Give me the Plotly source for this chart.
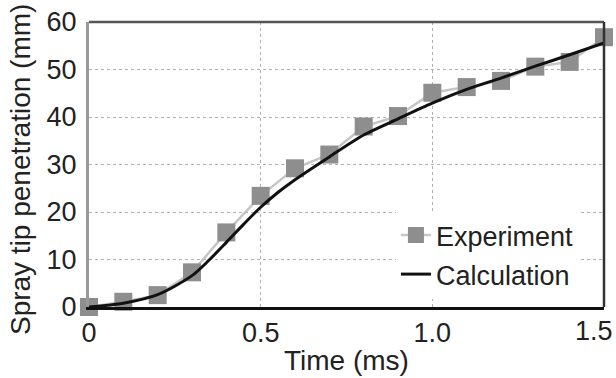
import plotly.graph_objects as go

# Spray tip penetration vs. time after start of injection
exp_time = [0.0, 0.1, 0.2, 0.3, 0.4, 0.5, 0.6, 0.7, 0.8, 0.9, 1.0, 1.1, 1.2, 1.3, 1.4, 1.5]
exp_pen = [0.0, 1.1, 2.5, 7.3, 15.7, 23.4, 29.2, 32.1, 38.0, 40.2, 45.1, 46.3, 47.6, 50.6, 51.6, 56.8]

calc_time = [0.0, 0.1, 0.2, 0.3, 0.35, 0.4, 0.45, 0.5, 0.55, 0.6, 0.7, 0.8, 0.9, 1.0, 1.1, 1.2, 1.3, 1.4, 1.5]
calc_pen = [0.0, 0.8, 2.6, 6.6, 9.9, 13.6, 17.4, 21.0, 24.1, 26.8, 31.6, 36.2, 39.6, 42.9, 45.8, 48.2, 50.7, 53.1, 55.6]

x_ticks = [0, 0.5, 1.0, 1.5]
x_tick_text = ["0", "0.5", "1.0", "1.5"]
y_ticks = [0, 10, 20, 30, 40, 50, 60]

x_title = "Time (ms)"
y_title = "Spray tip penetration (mm)"

FONT = "Liberation Sans, Arial, sans-serif"
TEXT_COLOR = "#222222"
TICK_SIZE = 27
TITLE_SIZE = 28

fig = go.Figure()
fig.add_trace(go.Scatter(
    x=exp_time, y=exp_pen, name="Experiment", mode="lines+markers",
    line=dict(color="#c6c6c6", width=2.5),
    marker=dict(symbol="square", size=18, color="#8e8e8e"),
    legendgroup="a", cliponaxis=False,
))
fig.add_trace(go.Scatter(
    x=calc_time, y=calc_pen, name="Calculation", mode="lines",
    line=dict(color="#111111", width=3, shape="spline", smoothing=0.8),
    legendgroup="b", cliponaxis=False,
))

# Frame: top and right borders
fig.add_shape(type="line", xref="paper", yref="paper", x0=0, x1=1, y0=1, y1=1,
              line=dict(color="#555555", width=2.5))
fig.add_shape(type="line", xref="paper", yref="paper", x0=1, x1=1, y0=0, y1=1,
              line=dict(color="#333333", width=2.5))

# The last x tick label sits at the page edge, so it is right-aligned to stay visible
axis_tick_text = x_tick_text[:-1] + [""]
fig.add_annotation(text=x_tick_text[-1], xref="x", yref="paper", x=x_ticks[-1], y=-0.084,
                   xanchor="right", yanchor="middle", xshift=11, showarrow=False,
                   font=dict(size=TICK_SIZE, family=FONT, color=TEXT_COLOR))

# Axis titles
fig.add_annotation(text=x_title, xref="paper", yref="paper", x=0.5, y=-0.186,
                   xanchor="center", yanchor="middle", showarrow=False,
                   font=dict(size=TITLE_SIZE, family=FONT, color=TEXT_COLOR))
fig.add_annotation(text=y_title, xref="paper", yref="paper", x=-0.134, y=0.484,
                   xanchor="center", yanchor="middle", textangle=-90, showarrow=False,
                   font=dict(size=TITLE_SIZE, family=FONT, color=TEXT_COLOR))

fig.update_layout(
    width=616, height=378,
    margin=dict(l=89, r=12, t=22, b=71),
    paper_bgcolor="white", plot_bgcolor="white",
    font=dict(family=FONT, color=TEXT_COLOR),
    showlegend=True,
    legend=dict(
        x=0.596, y=0.337, xanchor="left", yanchor="top",
        bgcolor="white", borderwidth=0,
        font=dict(size=27, family=FONT, color=TEXT_COLOR),
        traceorder="grouped", tracegroupgap=1,
    ),
    xaxis=dict(
        range=[0, 1.5], tickvals=x_ticks, ticktext=axis_tick_text,
        ticklabeloverflow="allow", automargin=False,
        showgrid=True, gridcolor="#b0b0b0", griddash="dot", gridwidth=1,
        showline=True, linecolor="#111111", linewidth=2.5,
        zeroline=False, ticks="",
        tickfont=dict(size=TICK_SIZE, family=FONT, color=TEXT_COLOR),
    ),
    yaxis=dict(
        range=[0, 60], tickvals=y_ticks, automargin=False,
        showgrid=True, gridcolor="#b0b0b0", griddash="dot", gridwidth=1,
        showline=True, linecolor="#999999", linewidth=3,
        zeroline=False, ticks="", ticklabelstandoff=4,
        tickfont=dict(size=TICK_SIZE, family=FONT, color=TEXT_COLOR),
    ),
)

fig.write_html("out.html")
